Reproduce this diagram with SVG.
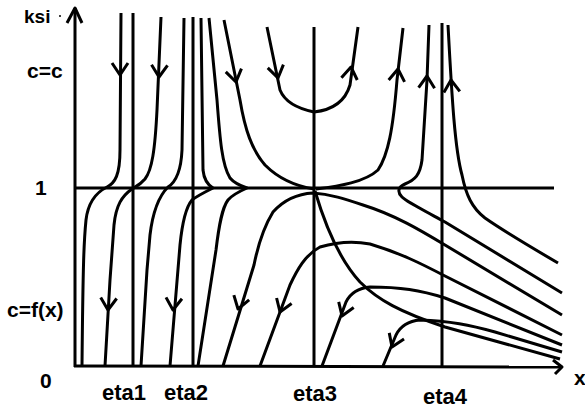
<svg xmlns="http://www.w3.org/2000/svg" xmlns:xlink="http://www.w3.org/1999/xlink" width="585" height="412" viewBox="0 0 585 412">
<style>
.l{fill:none;stroke:#000;stroke-width:3;stroke-linejoin:round;stroke-linecap:butt}
.t{font-family:"Liberation Sans",Arial,sans-serif;font-weight:bold;fill:#000}
</style>
<defs>
<path id="chev" class="l" d="M-8,-12 L0,0 L8,-12"/>
</defs>
<rect width="585" height="412" fill="#fff"/>
<g id="axes">
<path class="l" d="M75,367 L75,8"/>
<path class="l" d="M67,23 L75,8 L82,23"/>
<path class="l" d="M74,366 L562,367"/>
<path class="l" d="M553,360 L562,367 L555,374"/>
<path class="l" d="M75,188 L554,188"/>
<path class="l" d="M133,13 L133,367"/>
<path class="l" d="M193,17 L193,367"/>
<path class="l" d="M314,27 L314,367"/>
<path class="l" d="M442,23 L442,368"/>
<circle cx="60" cy="16" r="1" fill="#000"/>
</g>
<g id="labels">
<text class="t" x="24" y="23" font-size="19">ksi</text>
<text class="t" x="27" y="78" font-size="21">c=c</text>
<text class="t" x="35" y="195" font-size="21">1</text>
<text class="t" x="7" y="317" font-size="21">c=f(x)</text>
<text class="t" x="40" y="388" font-size="21">0</text>
<text class="t" x="102" y="400" font-size="22">eta1</text>
<text class="t" x="164" y="400" font-size="22">eta2</text>
<text class="t" x="293" y="401" font-size="22">eta3</text>
<text class="t" x="423" y="404" font-size="22">eta4</text>
<text class="t" x="574" y="385" font-size="21">x</text>
</g>
<g id="trajectories">
<path class="l" d="M121,13 L120,150 C120,175 115,183 107,187 C95,193 88,203 86,220 C84,240 83,260 82,366"/>
<path class="l" d="M161,17 L157,110 C155,150 152,170 145,179 C140,185 135,187 132,189 C122,196 116,205 114,225 L110,280 L105,366"/>
<path class="l" d="M184,18 L182,150 C181,172 176,182 168,187 C160,195 153,210 150,235 L147,270 L141,366"/>
<path class="l" d="M201,18 L203,170 C204,180 208,185 213,188 C205,192 197,196 192,200 C186,207 182,225 180,245 L170,366"/>
<path class="l" d="M209,18 L217,100 C220,140 222,165 230,178 C235,184 241,186 247,188 C238,192 232,195 228,200 C222,208 219,225 216,250 L198,366"/>
<path class="l" d="M224,20 L240,100 C245,130 252,150 265,165 C278,178 295,186 314,189"/>
<path class="l" d="M267,27 L280,90 C284,100 295,108 314,112 C332,110 345,102 350,85 L358,27"/>
<path class="l" d="M403,28 L397,80 C393,130 388,155 378,170 C365,182 340,186 316,189"/>
<path class="l" d="M429,25 L427,80 L422,160 C420,175 415,180 405,184 C398,187 397,192 402,197 C406,201 412,204 445,222 L562,293"/>
<path class="l" d="M448,25 C452,100 455,150 462,175 C466,195 472,208 485,218 C495,225 505,232 558,263"/>
<path class="l" d="M315,191 C325,225 338,258 360,282 C378,300 400,312 445,327 L560,359"/>
<path class="l" d="M562,315 L445,245 C420,230 395,215 363,205 C345,199 330,194 313,193 C295,194 282,202 273,212 C265,225 258,245 254,265 L223,366"/>
<path class="l" d="M562,335 L445,276 C420,263 400,253 370,244 C355,241 340,241 320,247 C305,255 297,270 290,285 L260,366"/>
<path class="l" d="M562,345 L445,298 C420,290 400,287 370,287 C358,288 350,294 346,302 L322,366"/>
<path class="l" d="M562,352 L495,332 C470,325 450,321 420,320 C408,321 400,327 396,335 L383,366"/>
</g>
<g id="arrows">
<use xlink:href="#chev" href="#chev" transform="translate(120,75)"/>
<use xlink:href="#chev" href="#chev" transform="translate(159,77) rotate(2.5)"/>
<use xlink:href="#chev" href="#chev" transform="translate(236,82) rotate(-11.5)"/>
<use xlink:href="#chev" href="#chev" transform="translate(278,78) rotate(-11.7)"/>
<use xlink:href="#chev" href="#chev" transform="translate(351,67) rotate(188)"/>
<use xlink:href="#chev" href="#chev" transform="translate(398,69) rotate(186.6)"/>
<use xlink:href="#chev" href="#chev" transform="translate(427,76) rotate(182)"/>
<use xlink:href="#chev" href="#chev" transform="translate(451,80) rotate(176)"/>
<use xlink:href="#chev" href="#chev" transform="translate(108,310) rotate(3.3)"/>
<use xlink:href="#chev" href="#chev" transform="translate(173,310) rotate(4.7)"/>
<use xlink:href="#chev" href="#chev" transform="translate(238,309) rotate(17)"/>
<use xlink:href="#chev" href="#chev" transform="translate(280,312) rotate(20)"/>
<use xlink:href="#chev" href="#chev" transform="translate(342,316) rotate(20.5)"/>
<use xlink:href="#chev" href="#chev" transform="translate(392,347) rotate(22.7)"/>
</g>
</svg>
